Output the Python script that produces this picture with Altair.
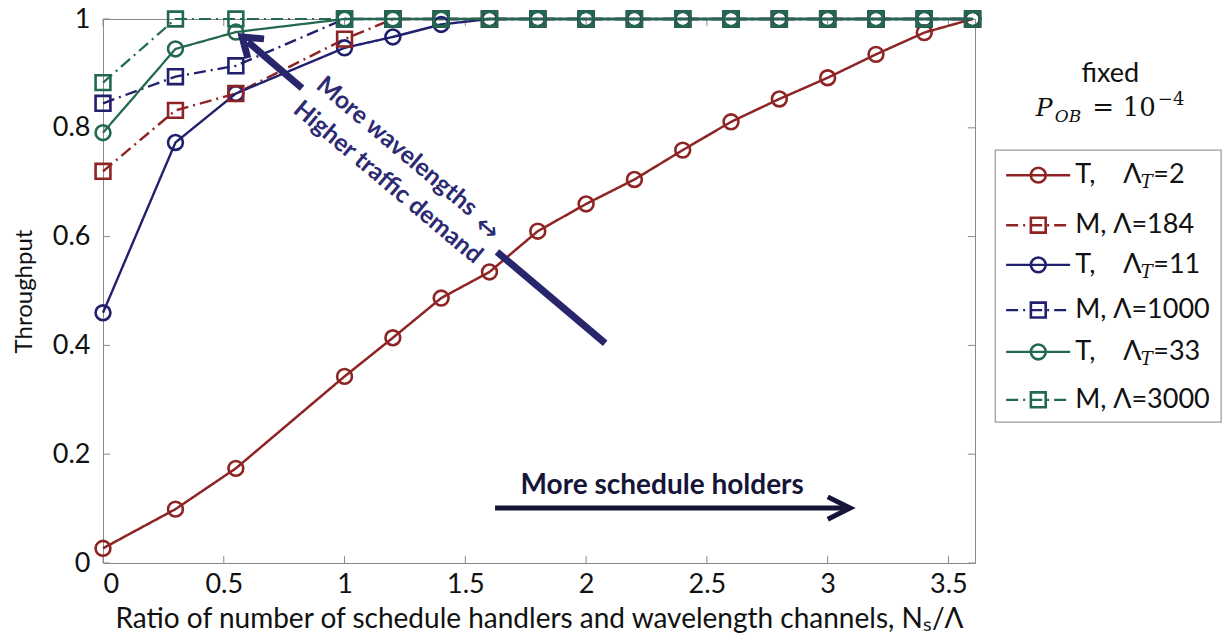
import altair as alt
import pandas as pd

# ---------------- data ----------------
x_vals = [0, 0.3, 0.55, 1.0, 1.2, 1.4, 1.6, 1.8, 2.0, 2.2, 2.4, 2.6, 2.8, 3.0, 3.2, 3.4, 3.6]
t_2 = [0.027, 0.099, 0.174, 0.343, 0.414, 0.487, 0.535, 0.61, 0.66, 0.705, 0.759, 0.811, 0.853, 0.892, 0.935, 0.975, 1.0]
m_184 = [0.72, 0.832, 0.863, 0.963, 1.0, 1.0, 1.0, 1.0, 1.0, 1.0, 1.0, 1.0, 1.0, 1.0, 1.0, 1.0, 1.0]
t_11 = [0.46, 0.773, 0.863, 0.947, 0.967, 0.99, 1.0, 1.0, 1.0, 1.0, 1.0, 1.0, 1.0, 1.0, 1.0, 1.0, 1.0]
m_1000 = [0.845, 0.894, 0.914, 1.0, 1.0, 1.0, 1.0, 1.0, 1.0, 1.0, 1.0, 1.0, 1.0, 1.0, 1.0, 1.0, 1.0]
t_33 = [0.791, 0.945, 0.976, 1.0, 1.0, 1.0, 1.0, 1.0, 1.0, 1.0, 1.0, 1.0, 1.0, 1.0, 1.0, 1.0, 1.0]
m_3000 = [0.883, 1.0, 1.0, 1.0, 1.0, 1.0, 1.0, 1.0, 1.0, 1.0, 1.0, 1.0, 1.0, 1.0, 1.0, 1.0, 1.0]

series_names = ["T2", "M184", "T11", "M1000", "T33", "M3000"]
series_kind = ["T", "M", "T", "M", "T", "M"]
legend_prefix = ["T,", "M,", "T,", "M,", "T,", "M,"]
legend_tail = ["=2", "Λ=184", "=11", "Λ=1000", "=33", "Λ=3000"]
series_values = [t_2, m_184, t_11, m_1000, t_33, m_3000]

x_ticks = [0, 0.5, 1, 1.5, 2, 2.5, 3, 3.5]
y_ticks = [0, 0.2, 0.4, 0.6, 0.8, 1.0]

# ---------------- styles ----------------
RED, BLUE, GREEN = "#8E2424", "#20206E", "#23694F"
colors = [RED, RED, BLUE, BLUE, GREEN, GREEN]
dashes = [[1, 0], [12, 5, 2, 5], [1, 0], [12, 5, 2, 5], [1, 0], [12, 5, 2, 5]]
widths = [2.5, 2.2, 2.5, 2.2, 2.5, 2.2]

FONT = "Lato"
SERIF = "DejaVu Serif"
TXT = "#111111"

rows = []
for name, kind, vals in zip(series_names, series_kind, series_values):
    for xv, yv in zip(x_vals, vals):
        rows.append({"series": name, "kind": kind, "x": xv, "y": yv})
df = pd.DataFrame(rows)

xscale = alt.Scale(domain=[0, 3.61], nice=False, zero=False)
yscale = alt.Scale(domain=[0, 1], nice=False)

X = alt.X("x:Q", scale=xscale,
          axis=alt.Axis(values=x_ticks, format="~g",
                        title="Ratio of number of schedule handlers and wavelength channels, Nₛ/Λ",
                        ticks=False, domain=False, grid=False, labelPadding=8, titlePadding=8,
                        titleFontSize=28))
Y = alt.Y("y:Q", scale=yscale,
          axis=alt.Axis(values=y_ticks, format="~g", title="Throughput", ticks=False, domain=False,
                        grid=False, labelPadding=13, titlePadding=16, titleFontSize=24))

color_enc = alt.Color("series:N", scale=alt.Scale(domain=series_names, range=colors), legend=None)
dash_enc = alt.StrokeDash("series:N", scale=alt.Scale(domain=series_names, range=dashes), legend=None)
width_enc = alt.StrokeWidth("series:N", scale=alt.Scale(domain=series_names, range=widths), legend=None)

lines = alt.Chart(df).mark_line().encode(
    x=X, y=Y, color=color_enc, strokeDash=dash_enc, strokeWidth=width_enc,
)
circles = alt.Chart(df).transform_filter(alt.datum.kind == "T").mark_point(
    shape="circle", filled=False, size=220, strokeWidth=2.6, opacity=1
).encode(x="x:Q", y="y:Q", color=color_enc)
squares = alt.Chart(df).transform_filter(alt.datum.kind == "M").mark_point(
    shape="square", filled=False, size=220, strokeWidth=2.6, opacity=1
).encode(x="x:Q", y="y:Q", color=color_enc)

# ---------------- frame ticks (inward) ----------------
tick_col = "#8a8a8a"
bx = pd.DataFrame({"x": x_ticks})
by = pd.DataFrame({"y": y_ticks})
bottom_t = alt.Chart(bx).mark_rule(color=tick_col, strokeWidth=1).encode(
    x="x:Q", y=alt.datum(0), y2=alt.datum(0.013))
top_t = alt.Chart(bx).mark_rule(color=tick_col, strokeWidth=1).encode(
    x="x:Q", y=alt.datum(0.987), y2=alt.datum(1.0))
left_t = alt.Chart(by).mark_rule(color=tick_col, strokeWidth=1).encode(
    y="y:Q", x=alt.datum(0), x2=alt.datum(0.029))
right_t = alt.Chart(by).mark_rule(color=tick_col, strokeWidth=1).encode(
    y="y:Q", x=alt.datum(3.581), x2=alt.datum(3.61))

# ---------------- legend (drawn in data coordinates, right of the axes) ----------------
LEG_ROW_Y = [0.713, 0.621, 0.548, 0.465, 0.388, 0.300]
leg = pd.DataFrame({
    "series": series_names, "kind": series_kind, "prefix": legend_prefix,
    "tail": legend_tail, "ly": LEG_ROW_Y,
})
leg_box = alt.Chart(pd.DataFrame({"x": [3.694], "x2": [4.629], "y": [0.759], "y2": [0.259]})).mark_rect(
    fill="white", stroke="#9a9a9a", strokeWidth=1.2
).encode(x="x:Q", x2="x2:Q", y="y:Q", y2="y2:Q")
leg_lines = alt.Chart(leg).mark_rule().encode(
    x=alt.datum(3.739), x2=alt.datum(4.004), y="ly:Q",
    color=color_enc, strokeDash=dash_enc, strokeWidth=width_enc,
)
leg_circ = alt.Chart(leg).transform_filter(alt.datum.kind == "T").mark_point(
    shape="circle", filled=False, size=220, strokeWidth=2.6, opacity=1
).encode(x=alt.datum(3.872), y="ly:Q", color=color_enc)
leg_sq = alt.Chart(leg).transform_filter(alt.datum.kind == "M").mark_point(
    shape="square", filled=False, size=220, strokeWidth=2.6, opacity=1
).encode(x=alt.datum(3.872), y="ly:Q", color=color_enc)
leg_prefix = alt.Chart(leg).mark_text(
    font=FONT, fontSize=27, color=TXT, align="left", baseline="middle"
).encode(x=alt.datum(4.025), y="ly:Q", text="prefix:N")
leg_m_tail = alt.Chart(leg).transform_filter(alt.datum.kind == "M").mark_text(
    font=FONT, fontSize=27, color=TXT, align="left", baseline="middle"
).encode(x=alt.datum(4.182), y="ly:Q", text="tail:N")
leg_t_lam = alt.Chart(leg).transform_filter(alt.datum.kind == "T").mark_text(
    font=FONT, fontSize=27, color=TXT, align="left", baseline="middle", text="Λ"
).encode(x=alt.datum(4.224), y="ly:Q")
leg_t_sub = alt.Chart(leg).transform_filter(alt.datum.kind == "T").mark_text(
    font=SERIF, fontStyle="italic", fontSize=18, color=TXT, align="left", baseline="middle",
    text="T", dy=8
).encode(x=alt.datum(4.296), y="ly:Q")
leg_t_tail = alt.Chart(leg).transform_filter(alt.datum.kind == "T").mark_text(
    font=FONT, fontSize=27, color=TXT, align="left", baseline="middle"
).encode(x=alt.datum(4.348), y="ly:Q", text="tail:N")

# ---------------- annotations ----------------
ARROW1 = "#27256B"
ARROW2 = "#15153A"
seg_df = pd.DataFrame({
    "x": [2.079, 0.824], "y": [0.404, 0.873],
    "x2": [1.631, 0.600], "y2": [0.572, 0.958],
})
shaft1 = alt.Chart(seg_df).mark_rule(color=ARROW1, strokeWidth=7).encode(
    x="x:Q", y="y:Q", x2="x2:Q", y2="y2:Q")
head1 = alt.Chart(pd.DataFrame({"x": [0.576], "y": [0.967]})).mark_point(
    shape="M-0.7,1L0,0L0.7,1", filled=False, size=1300, strokeWidth=7, color=ARROW1,
    opacity=1, angle=310, strokeJoin="miter").encode(x="x:Q", y="y:Q")

shaft2 = alt.Chart(pd.DataFrame({"x": [1.623], "x2": [3.07], "y": [0.101]})).mark_rule(
    color=ARROW2, strokeWidth=5).encode(x="x:Q", x2="x2:Q", y="y:Q")
head2 = alt.Chart(pd.DataFrame({"x": [3.093], "y": [0.101]})).mark_point(
    shape="M-0.5,1L0,0L0.5,1", filled=False, size=2000, strokeWidth=5, color=ARROW2,
    opacity=1, angle=90, strokeJoin="miter").encode(x="x:Q", y="y:Q")

rot_text = alt.Chart(pd.DataFrame({
    "x": [1.215, 1.178], "y": [0.765, 0.699],
    "t": ["More wavelengths", "Higher traffic demand"],
})).mark_text(font=FONT, fontWeight="bold", fontSize=24.5, color="#2B2A72", angle=40,
              align="center", baseline="middle").encode(x="x:Q", y="y:Q", text="t:N")

dbl_arrow = alt.Chart(pd.DataFrame({"x": [1.588], "y": [0.614], "t": ["↔"]})).mark_text(
    font="DejaVu Sans", fontSize=28, color="#2B2A72", angle=40, align="center",
    baseline="middle").encode(x="x:Q", y="y:Q", text="t:N")

holders = alt.Chart(pd.DataFrame({"x": [2.315], "y": [0.1415], "t": ["More schedule holders"]})).mark_text(
    font=FONT, fontWeight="bold", fontSize=28, color=ARROW2, align="center",
    baseline="middle").encode(x="x:Q", y="y:Q", text="t:N")

fixed_txt = alt.Chart(pd.DataFrame({"x": [4.170], "y": [0.884], "t": ["fixed"]})).mark_text(
    font=FONT, fontSize=27, color=TXT, align="center", baseline="alphabetic"
).encode(x="x:Q", y="y:Q", text="t:N")
p_txt = alt.Chart(pd.DataFrame({"x": [3.862], "y": [0.822], "t": ["P"]})).mark_text(
    font=SERIF, fontStyle="italic", fontSize=25, color=TXT, align="left", baseline="alphabetic"
).encode(x="x:Q", y="y:Q", text="t:N")
ob_txt = alt.Chart(pd.DataFrame({"x": [3.940], "y": [0.811], "t": ["OB"]})).mark_text(
    font=SERIF, fontStyle="italic", fontSize=17, color=TXT, align="left", baseline="alphabetic"
).encode(x="x:Q", y="y:Q", text="t:N")
eq_txt = alt.Chart(pd.DataFrame({"x": [4.095, 4.222], "y": [0.822, 0.822], "t": ["=", "10"]})).mark_text(
    font=SERIF, fontSize=26, color=TXT, align="left", baseline="alphabetic"
).encode(x="x:Q", y="y:Q", text="t:N")
exp_txt = alt.Chart(pd.DataFrame({"x": [4.367], "y": [0.841], "t": ["−4"]})).mark_text(
    font=SERIF, fontSize=18, color=TXT, align="left", baseline="alphabetic"
).encode(x="x:Q", y="y:Q", text="t:N")

chart = alt.layer(
    bottom_t, top_t, left_t, right_t,
    lines, circles, squares,
    leg_box, leg_lines, leg_circ, leg_sq, leg_prefix, leg_m_tail, leg_t_lam, leg_t_sub, leg_t_tail,
    shaft1, head1, shaft2, head2, rot_text, dbl_arrow, holders,
    fixed_txt, p_txt, ob_txt, eq_txt, exp_txt,
).properties(
    width=872, height=544,
    padding={"left": 103, "top": 19, "right": 256, "bottom": 78},
    autosize=alt.AutoSizeParams(type="none"),
    background="white",
).configure_view(
    stroke="#8a8a8a", strokeWidth=1
).configure_axis(
    labelFont=FONT, labelFontSize=27, labelColor=TXT,
    titleFont=FONT, titleColor=TXT, titleFontWeight="normal",
)

chart.save("out.html", embed_options={"renderer": "svg", "actions": False})
